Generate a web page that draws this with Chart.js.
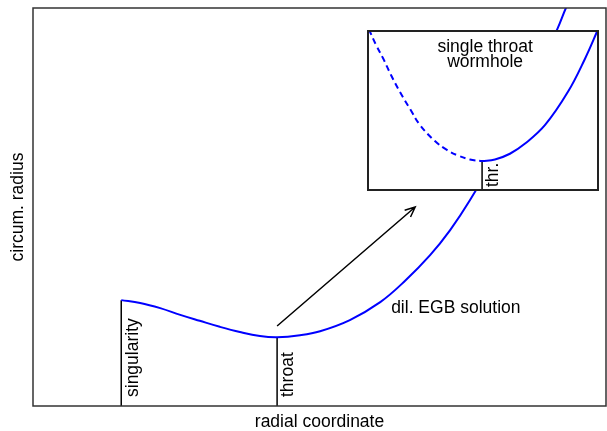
<!DOCTYPE html>
<html>
<head>
<meta charset="utf-8">
<script src="https://cdn.jsdelivr.net/npm/chart.js@4.4.1/dist/chart.umd.min.js"></script>
<style>
  html, body { margin: 0; padding: 0; background: #fff; }
  #wrap { position: relative; width: 607px; height: 431px; }
  #main { position: absolute; left: 0; top: 0; }
  #inset { position: absolute; left: 367px; top: 30px; }
</style>
</head>
<body>
<div id="wrap">
  <canvas id="main" width="607" height="431"></canvas>
  <canvas id="inset" width="232" height="161"></canvas>
</div>
<script>
const FONT = '"Liberation Sans", Arial, Helvetica, sans-serif';
const FONT_SIZE = 17.5;
const BLUE = '#0000ff';

// Dilatonic EGB solution: circumferential radius vs radial coordinate
const radialCoord  = [1.54, 1.87, 2.22, 2.57, 2.91, 3.26, 3.61, 3.96, 4.26, 4.66, 5.01, 5.53, 6.06, 6.49, 6.93, 7.28, 7.63, 8.15, 8.67, 9.15, 9.30, 9.46];
const circumRadius = [2.66, 2.59, 2.46, 2.29, 2.14, 1.99, 1.86, 1.76, 1.73, 1.78, 1.88, 2.16, 2.61, 3.14, 3.79, 4.42, 5.18, 6.48, 7.99, 9.47, 10.0, 10.5];
const singularityIdx = 0;   // curve starts at the singularity
const throatIdx = 8;        // minimum of the curve

// Arrow pointing from the throat region to the inset
const arrowStart = [4.26, 2.01];
const arrowEnd   = [6.67, 5.00];

// Inset: single throat wormhole (inner branch dashed, outer branch solid)
const innerX = [0.04, 0.35, 0.65, 1.00, 1.39, 1.83, 2.26, 2.91, 3.43, 3.91, 4.43, 4.96];
const innerY = [10.1, 9.12, 8.30, 7.23, 6.16, 5.09, 4.09, 3.08, 2.52, 2.17, 1.92, 1.82];
const outerX = [4.96, 5.52, 6.17, 6.83, 7.70, 8.70, 9.43, 9.96, 10.13];
const outerY = [1.82, 1.92, 2.28, 2.92, 4.09, 6.19, 8.24, 9.97, 10.57];

const toPts = (xs, ys) => xs.map((x, i) => ({ x, y: ys[i] }));

function rotatedText(ctx, text, x, y) {
  ctx.save();
  ctx.translate(x, y);
  ctx.rotate(-Math.PI / 2);
  ctx.textAlign = 'left';
  ctx.textBaseline = 'alphabetic';
  ctx.fillText(text, 0, 0);
  ctx.restore();
}

const framePlugin = (color, width) => ({
  id: 'frame',
  beforeDraw(chart) {
    const { ctx } = chart;
    ctx.save();
    ctx.fillStyle = '#fff';
    ctx.fillRect(0, 0, chart.width, chart.height);
    ctx.restore();
  },
  afterDraw(chart) {
    const { ctx, chartArea: a } = chart;
    ctx.save();
    ctx.strokeStyle = color;
    ctx.lineWidth = width;
    ctx.strokeRect(a.left, a.top, a.right - a.left, a.bottom - a.top);
    ctx.restore();
  }
});

const mainLabels = {
  id: 'mainLabels',
  afterDatasetsDraw(chart) {
    const { ctx, scales: { x, y }, chartArea: a } = chart;
    ctx.save();
    ctx.fillStyle = '#000';
    ctx.strokeStyle = '#000';
    ctx.font = FONT_SIZE + 'px ' + FONT;

    // vertical marker labels
    const sx = x.getPixelForValue(radialCoord[singularityIdx]);
    const tx = x.getPixelForValue(radialCoord[throatIdx]);
    rotatedText(ctx, 'singularity', sx + 17, a.bottom - 9);
    rotatedText(ctx, 'throat', tx + 16, a.bottom - 9);

    // curve label
    ctx.textAlign = 'left';
    ctx.textBaseline = 'alphabetic';
    ctx.fillText('dil. EGB solution', x.getPixelForValue(6.25), y.getPixelForValue(2.34));

    // arrow
    const x0 = x.getPixelForValue(arrowStart[0]), y0 = y.getPixelForValue(arrowStart[1]);
    const x1 = x.getPixelForValue(arrowEnd[0]),   y1 = y.getPixelForValue(arrowEnd[1]);
    const ang = Math.atan2(y1 - y0, x1 - x0);
    const head = 11, spread = 0.42;
    ctx.lineWidth = 1.5;
    ctx.beginPath();
    ctx.moveTo(x0, y0);
    ctx.lineTo(x1, y1);
    ctx.moveTo(x1 - head * Math.cos(ang - spread), y1 - head * Math.sin(ang - spread));
    ctx.lineTo(x1, y1);
    ctx.lineTo(x1 - head * Math.cos(ang + spread), y1 - head * Math.sin(ang + spread));
    ctx.stroke();
    ctx.restore();
  }
};

const insetLabels = {
  id: 'insetLabels',
  afterDatasetsDraw(chart) {
    const { ctx, scales: { x, y }, chartArea: a } = chart;
    ctx.save();
    ctx.fillStyle = '#000';
    ctx.font = FONT_SIZE + 'px ' + FONT;
    ctx.textAlign = 'center';
    ctx.textBaseline = 'alphabetic';
    ctx.fillText('single throat', x.getPixelForValue(5.09), y.getPixelForValue(8.68));
    ctx.fillText('wormhole', x.getPixelForValue(5.09), y.getPixelForValue(7.74));
    const px = x.getPixelForValue(innerX[innerX.length - 1]);
    rotatedText(ctx, 'thr.', px + 16, a.bottom - 3);
    ctx.restore();
  }
};

const hiddenAxis = (extra) => Object.assign({
  type: 'linear', min: 0, max: 10,
  ticks: { display: false },
  grid: { display: false, drawTicks: false },
  border: { display: false }
}, extra);

const curveStyle = { borderColor: BLUE, borderWidth: 2, pointRadius: 0, tension: 0.4, fill: false };

new Chart(document.getElementById('main'), {
  type: 'line',
  data: {
    datasets: [
      Object.assign({ data: toPts(radialCoord, circumRadius) }, curveStyle),
      {
        data: [{ x: radialCoord[singularityIdx], y: 0 }, { x: radialCoord[singularityIdx], y: circumRadius[singularityIdx] }],
        borderColor: '#000', borderWidth: 1.5, pointRadius: 0
      },
      {
        data: [{ x: radialCoord[throatIdx], y: 0 }, { x: radialCoord[throatIdx], y: circumRadius[throatIdx] }],
        borderColor: '#000', borderWidth: 1.5, pointRadius: 0
      }
    ]
  },
  options: {
    responsive: false,
    animation: false,
    events: [],
    layout: { padding: { top: 8, right: 1, left: 0, bottom: 0 } },
    plugins: { legend: { display: false }, tooltip: { enabled: false } },
    scales: {
      x: hiddenAxis({
        title: { display: true, text: 'radial coordinate', color: '#000',
                 font: { family: FONT, size: FONT_SIZE, lineHeight: 1 }, padding: { top: 0, bottom: 0 } },
        afterFit: (s) => { s.height = 25; }
      }),
      y: hiddenAxis({
        title: { display: true, text: 'circum. radius', color: '#000',
                 font: { family: FONT, size: FONT_SIZE, lineHeight: 1 }, padding: { top: 9.5, bottom: 0 } },
        afterFit: (s) => { s.width = 33; }
      })
    }
  },
  plugins: [framePlugin('#333', 1.5), mainLabels]
});

new Chart(document.getElementById('inset'), {
  type: 'line',
  data: {
    datasets: [
      Object.assign({ data: toPts(innerX, innerY), borderDash: [6, 4] }, curveStyle),
      Object.assign({ data: toPts(outerX, outerY) }, curveStyle),
      {
        data: [{ x: innerX[innerX.length - 1], y: 0 }, { x: innerX[innerX.length - 1], y: innerY[innerY.length - 1] }],
        borderColor: '#000', borderWidth: 1.5, pointRadius: 0
      }
    ]
  },
  options: {
    responsive: false,
    animation: false,
    events: [],
    layout: { padding: 1 },
    plugins: { legend: { display: false }, tooltip: { enabled: false } },
    scales: {
      x: hiddenAxis({ display: false }),
      y: hiddenAxis({ display: false })
    }
  },
  plugins: [framePlugin('#222', 2), insetLabels]
});
</script>
</body>
</html>
